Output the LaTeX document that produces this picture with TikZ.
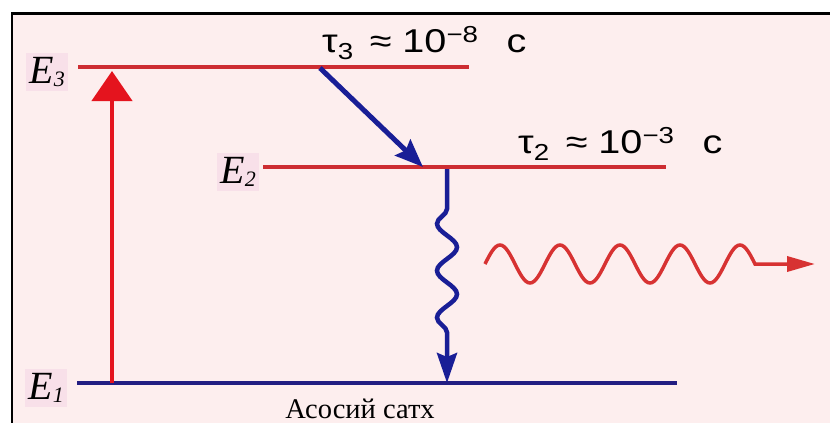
\documentclass[tikz,border=0pt]{standalone}
\usepackage{fontspec}
\setmainfont{Liberation Serif}
\newfontfamily\taufont[FakeStretch=1.2]{Liberation Sans}
\usetikzlibrary{positioning}
\usetikzlibrary{arrows.meta}
\usetikzlibrary{decorations.pathmorphing}
\definecolor{bgpink}{RGB}{253,238,238}
\definecolor{boxpink}{RGB}{248,224,233}
\definecolor{levelred}{RGB}{205,45,50}
\definecolor{groundblue}{RGB}{35,30,130}
\definecolor{decayblue}{RGB}{25,30,150}
\definecolor{pumpred}{RGB}{228,20,30}
\definecolor{wavered}{RGB}{215,50,50}
\newcommand{\lvlsub}[1]{\raisebox{-3pt}{\fontsize{22}{22}\selectfont #1}}
\tikzset{
level_line/.style={draw=levelred, line width=3.5pt},
ground_line/.style={draw=groundblue, line width=3.5pt},
level_label/.style={rectangle, fill=boxpink, inner xsep=3pt, inner ysep=4pt, yshift=-5pt, font=\fontsize{40}{40}\selectfont\itshape},
time_label/.style={rectangle, inner sep=0pt, anchor=base west, font=\taufont\fontsize{33}{33}\selectfont},
ground_text/.style={rectangle, inner sep=0pt, anchor=base, font=\fontsize{28.5}{28.5}\selectfont},
pump_arrow/.style={draw=pumpred, line width=4.5pt, -{Triangle[length=30pt,width=40pt]}},
decay_arrow/.style={draw=decayblue, line width=5pt, -{Stealth[length=28pt,width=22pt,inset=4pt]}},
drop_wave/.style={draw=decayblue, line width=4.5pt, decorate, decoration={snake, mirror, amplitude=10pt, segment length=47pt, pre length=40pt, post length=31pt}, -{Stealth[length=30pt,width=20pt,inset=4pt]}},
photon_wave/.style={draw=wavered, line width=3.5pt, -{Triangle[length=28pt,width=15pt]}}
}
\begin{document}
\begin{tikzpicture}[x=1pt, y=-1pt]
    \useasboundingbox (0,0) rectangle (830,423);
    \fill[bgpink] (12,14) rectangle (830,423);
    \draw[black, line width=2.5pt] (12,423) -- (12,13.5) -- (830,13.5);

    \coordinate (lvl_3_w) at (78,67);
    \coordinate (lvl_3_e) at (469,67);
    \coordinate (lvl_2_w) at (263,167);
    \coordinate (lvl_2_e) at (666,167);
    \coordinate (lvl_1_w) at (77,383);
    \coordinate (lvl_1_e) at (677,383);
    \draw[level_line] (lvl_3_w) -- (lvl_3_e);
    \draw[level_line] (lvl_2_w) -- (lvl_2_e);
    \draw[ground_line] (lvl_1_w) -- (lvl_1_e);

    \node[level_label] (E_3) [left=10pt of lvl_3_w] {E\lvlsub{3}};
    \node[level_label] (E_2) [left=4pt of lvl_2_w] {E\lvlsub{2}};
    \node[level_label] (E_1) [left=10pt of lvl_1_w] {E\lvlsub{1}};

    \node[time_label] (tau_3) at (322,52) {τ\textsubscript{3}\hspace{16pt}≈\hspace{11pt}10\textsuperscript{−8}\hspace{28pt}с};
    \node[time_label] (tau_2) at (518,153) {τ\textsubscript{2}\hspace{16pt}≈\hspace{11pt}10\textsuperscript{−3}\hspace{28pt}с};
    \node[ground_text] (ground_name) at (360,418) {Асосий сатх};

    \coordinate (pump_foot) at (112,383);
    \coordinate (pump_tip) at (112,71);
    \draw[pump_arrow] (pump_foot) -- (pump_tip);

    \coordinate (decay_start) at (320,68);
    \coordinate (decay_end) at (423,167);
    \draw[decay_arrow] (decay_start) -- (decay_end);

    \coordinate (drop_start) at (447,169);
    \coordinate (drop_end) at (447,383);
    \draw[drop_wave] (drop_start) -- (drop_end);

    \coordinate (photon_start) at (485,264);
    \coordinate (photon_end) at (815,264);
    \draw[photon_wave] (photon_start) \foreach \k in {1,...,4}{sin ++(15,-19) cos ++(15,19) sin ++(15,19) cos ++(15,-19)} sin ++(15,-19) cos ++(15,19) -- (photon_end);
\end{tikzpicture}
\end{document}
